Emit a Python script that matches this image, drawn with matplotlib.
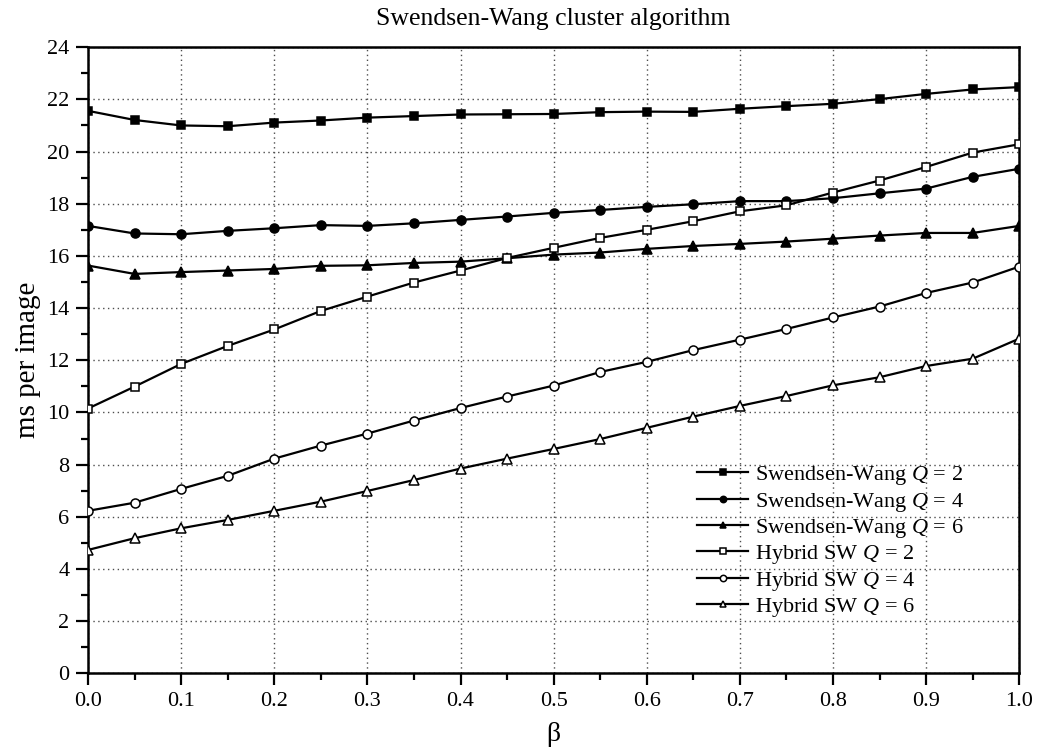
from matplotlib import pyplot as plt
from matplotlib.ticker import MultipleLocator
import numpy as np

plt.rcParams.update({
    "font.family": "serif",
    "font.serif": ["Liberation Serif"],
    "mathtext.fontset": "custom",
    "mathtext.it": "Liberation Serif:italic",
    "mathtext.rm": "Liberation Serif",
    "font.size": 16,
})

beta = [0.0, 0.05, 0.1, 0.15, 0.2, 0.25, 0.3, 0.35, 0.4, 0.45, 0.5,
        0.55, 0.6, 0.65, 0.7, 0.75, 0.8, 0.85, 0.9, 0.95, 1.0]

sw_q2 = [21.56, 21.21, 21.0, 20.97, 21.11, 21.19, 21.30, 21.36, 21.42, 21.43, 21.44,
         21.51, 21.53, 21.52, 21.64, 21.74, 21.83, 22.01, 22.21, 22.38, 22.47]
sw_q4 = [17.15, 16.86, 16.83, 16.96, 17.06, 17.18, 17.15, 17.25, 17.38, 17.51, 17.65,
         17.76, 17.88, 17.98, 18.10, 18.10, 18.21, 18.40, 18.58, 19.03, 19.34]
sw_q6 = [15.63, 15.31, 15.38, 15.44, 15.50, 15.62, 15.64, 15.73, 15.78, 15.91, 16.05,
         16.13, 16.27, 16.38, 16.46, 16.55, 16.66, 16.78, 16.88, 16.88, 17.15]
hy_q2 = [10.15, 10.99, 11.86, 12.55, 13.18, 13.89, 14.44, 14.98, 15.44, 15.92, 16.31,
         16.69, 17.0, 17.33, 17.71, 17.94, 18.43, 18.89, 19.41, 19.96, 20.28]
hy_q4 = [6.23, 6.54, 7.07, 7.57, 8.23, 8.73, 9.19, 9.69, 10.17, 10.61, 11.03,
         11.55, 11.94, 12.39, 12.79, 13.2, 13.64, 14.06, 14.58, 14.98, 15.59]
hy_q6 = [4.73, 5.18, 5.56, 5.88, 6.23, 6.58, 6.99, 7.41, 7.85, 8.23, 8.60,
         8.98, 9.41, 9.84, 10.25, 10.63, 11.04, 11.35, 11.78, 12.06, 12.83]

series = [
    (sw_q2, 's', 'k', 'Swendsen-Wang $Q$ = 2'),
    (sw_q4, 'o', 'k', 'Swendsen-Wang $Q$ = 4'),
    (sw_q6, '^', 'k', 'Swendsen-Wang $Q$ = 6'),
    (hy_q2, 's', 'w', 'Hybrid SW $Q$ = 2'),
    (hy_q4, 'o', 'w', 'Hybrid SW $Q$ = 4'),
    (hy_q6, '^', 'w', 'Hybrid SW $Q$ = 6'),
]

fig = plt.figure(figsize=(10.39, 7.49), dpi=100)
ax = fig.add_axes([0.0847, 0.101, 0.8963, 0.836])

for y, m, fc, lab in series:
    ms = 6.5 if m != 's' else 6
    ax.plot(beta, y, color='k', linewidth=1.6, marker=m, markersize=ms,
            markerfacecolor=fc, markeredgecolor='k', markeredgewidth=1.1,
            label=lab, zorder=3)

ax.set_xlim(0, 1.0)
ax.set_ylim(0, 24)
ax.xaxis.set_major_locator(MultipleLocator(0.1))
ax.xaxis.set_minor_locator(MultipleLocator(0.05))
ax.yaxis.set_major_locator(MultipleLocator(2))
ax.yaxis.set_minor_locator(MultipleLocator(1))
ax.xaxis.set_major_formatter(plt.FormatStrFormatter('%.1f'))
ax.tick_params(which='major', direction='out', length=8.5, width=1.6,
               labelsize=16, pad=5)
ax.tick_params(which='minor', direction='out', length=5, width=1.6)
for s in ax.spines.values():
    s.set_linewidth(1.8)
ax.grid(which='major', linestyle=(0, (1, 2.5)), color='0.3', linewidth=1.0)

ax.set_title('Swendsen-Wang cluster algorithm', fontsize=18.5, pad=16)
ax.set_xlabel('β', fontsize=20, labelpad=8)
ax.set_ylabel('ms per image', fontsize=21, labelpad=4)

leg = ax.legend(loc='lower right', bbox_to_anchor=(0.962, 0.055), frameon=False,
                fontsize=16, handlelength=2.3, markerscale=0.7,
                labelspacing=0.15, handletextpad=0.3)

fig.savefig('out.png', dpi=100)
